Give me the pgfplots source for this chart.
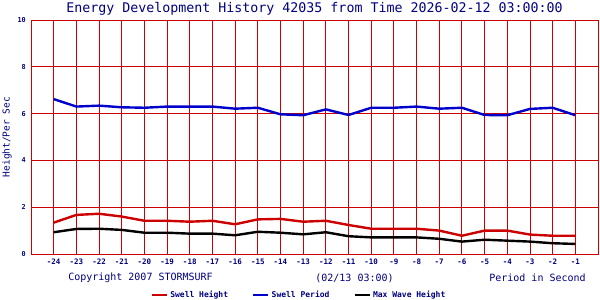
\documentclass[border=0pt]{standalone}
\usepackage{fontspec}
\setmainfont{DejaVu Sans Mono}
\usepackage{pgfplots}
\pgfplotsset{compat=1.18}
\definecolor{gridred}{RGB}{204,0,0}
\definecolor{lineblue}{RGB}{0,0,204}
\definecolor{navytxt}{RGB}{0,0,128}
\begin{document}
\begin{tikzpicture}
\path[use as bounding box, fill=white] (0,0) rectangle (600bp,300bp);
\begin{axis}[
  at={(31bp,46bp)}, anchor=south west,
  scale only axis, width=567bp, height=234bp,
  xmin=-25, xmax=0, ymin=0, ymax=10,
  xtick={-24,...,-1}, ytick={0,2,...,10},
  major tick length=0pt,
  grid=major,
  grid style={gridred, line width=0.9bp},
  axis line style={gridred, line width=0.9bp},
  tick label style={font=\fontsize{7.5bp}{8bp}\selectfont\bfseries, text=navytxt},
  xticklabel style={anchor=north, inner sep=0pt, yshift=-5bp},
  yticklabel style={anchor=east, inner sep=0pt, xshift=-5bp, font=\fontsize{6.8bp}{7bp}\selectfont\bfseries},
  /pgf/number format/assume math mode=true,
  legend columns=3,
  legend style={at={(axis description cs:0.4727,-0.175)}, anchor=center, draw=none, fill=none,
    font=\fontsize{8bp}{9bp}\selectfont\bfseries, text=navytxt,
    /tikz/every even column/.append style={column sep=22bp},
    inner sep=0pt, row sep=0pt},
  legend image code/.code={\draw[#1, line width=2.6bp] (0bp,0bp) -- (15bp,0bp);},
]
\addplot[gridred, line width=2.4bp] coordinates {
(-24,1.34) (-23,1.67) (-22,1.72) (-21,1.60) (-20,1.42) (-19,1.42) (-18,1.38) (-17,1.42)
(-16,1.27) (-15,1.48) (-14,1.50) (-13,1.38) (-12,1.42) (-11,1.24) (-10,1.08) (-9,1.08)
(-8,1.08) (-7,1.00) (-6,0.78) (-5,1.00) (-4,1.00) (-3,0.83) (-2,0.78) (-1,0.78)};
\addlegendentry{Swell Height}
\addplot[lineblue, line width=2.4bp] coordinates {
(-24,6.62) (-23,6.30) (-22,6.34) (-21,6.27) (-20,6.25) (-19,6.30) (-18,6.30) (-17,6.30)
(-16,6.21) (-15,6.25) (-14,5.97) (-13,5.93) (-12,6.18) (-11,5.94) (-10,6.25) (-9,6.25)
(-8,6.30) (-7,6.21) (-6,6.25) (-5,5.94) (-4,5.93) (-3,6.20) (-2,6.25) (-1,5.93)};
\addlegendentry{Swell Period}
\addplot[black, line width=2.4bp] coordinates {
(-24,0.93) (-23,1.07) (-22,1.08) (-21,1.03) (-20,0.91) (-19,0.91) (-18,0.87) (-17,0.87)
(-16,0.80) (-15,0.95) (-14,0.91) (-13,0.84) (-12,0.93) (-11,0.76) (-10,0.71) (-9,0.71)
(-8,0.71) (-7,0.65) (-6,0.53) (-5,0.61) (-4,0.57) (-3,0.53) (-2,0.46) (-1,0.43)};
\addlegendentry{Max Wave Height}
\end{axis}
\node[text=navytxt, font=\fontsize{13.3bp}{14bp}\selectfont, inner sep=0pt] at (314.5bp,291bp) {Energy Development History 42035 from Time 2026-02-12 03:00:00};
\node[text=navytxt, font=\fontsize{9.5bp}{10bp}\selectfont, inner sep=0pt, rotate=90] at (7bp,163bp) {Height/Per Sec};
\node[text=navytxt, font=\fontsize{10bp}{11bp}\selectfont, inner sep=0pt] at (140.5bp,22bp) {Copyright 2007 STORMSURF};
\node[text=navytxt, font=\fontsize{10bp}{11bp}\selectfont, inner sep=0pt] at (354.5bp,22bp) {(02/13 03:00)};
\node[text=navytxt, font=\fontsize{10bp}{11bp}\selectfont, inner sep=0pt] at (537.5bp,22bp) {Period in Second};
\end{tikzpicture}
\end{document}
